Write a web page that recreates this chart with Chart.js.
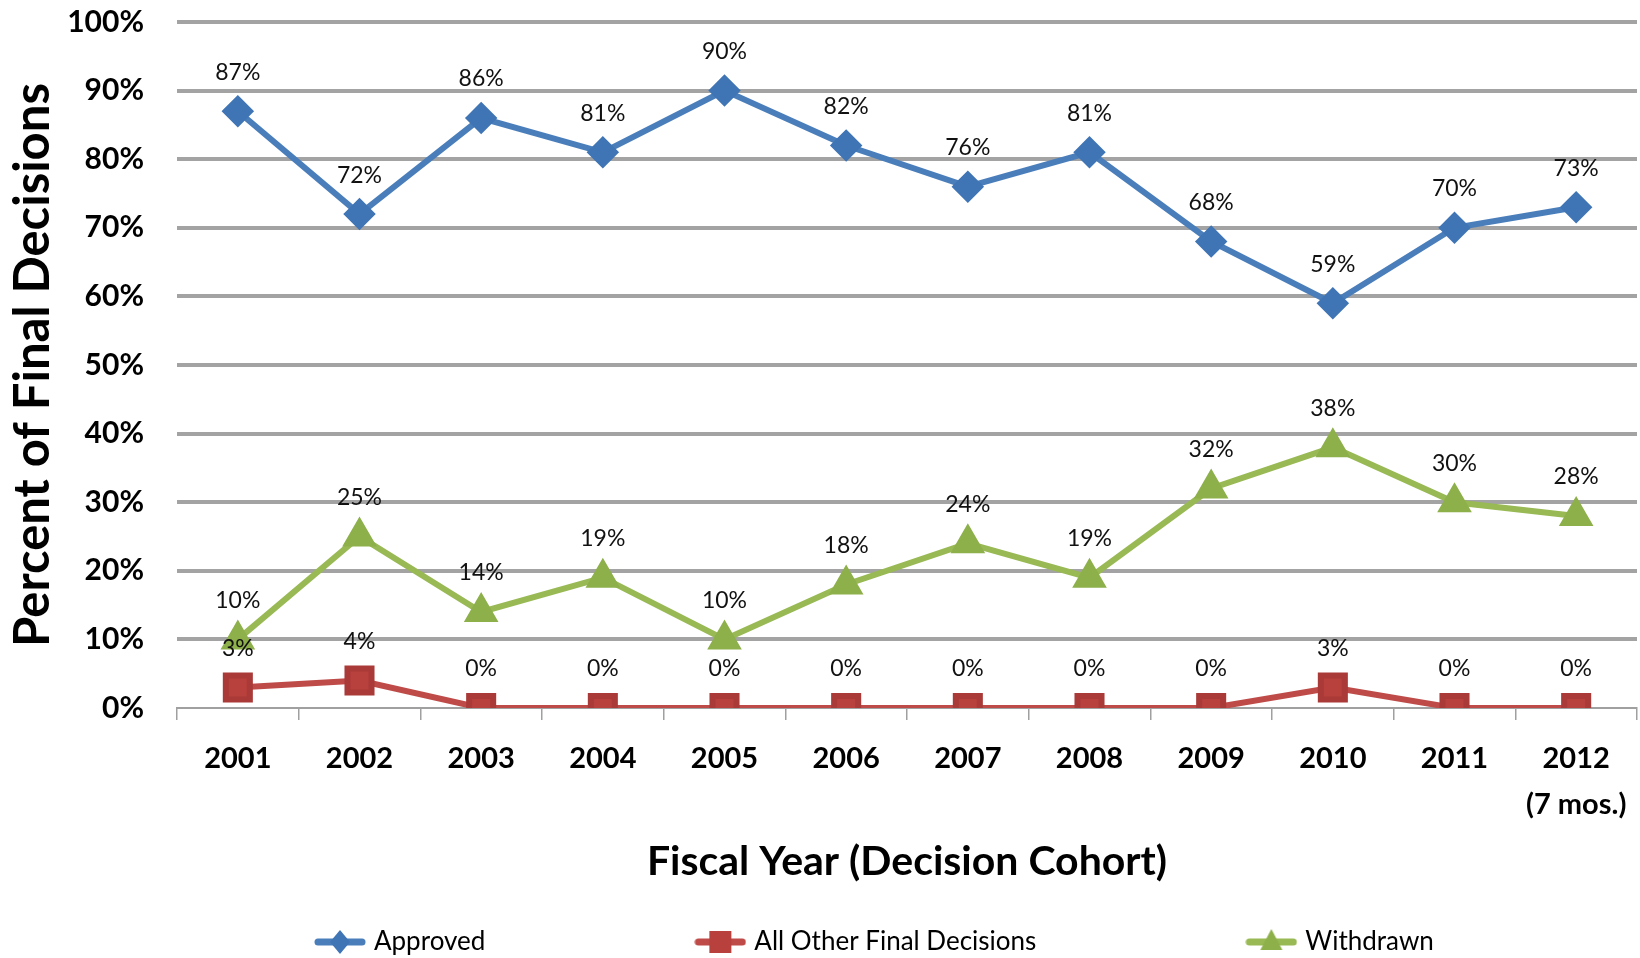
<!DOCTYPE html>
<html lang="en">
  <head>
    <meta charset="UTF-8" />
    <title>Final Decisions by Fiscal Year</title>
    <script src="https://cdn.jsdelivr.net/npm/chart.js@4.4.0/dist/chart.umd.min.js"></script>
    <style>
      body { margin: 0; background: #fff; }
    </style>
  </head>
  <body>
    <canvas id="decisions" width="1640" height="958"></canvas>
    <script>
      const years = ["2001", "2002", "2003", "2004", "2005", "2006", "2007", "2008", "2009", "2010", "2011", ["2012", "(7 mos.)"]];
      const approved = [87, 72, 86, 81, 90, 82, 76, 81, 68, 59, 70, 73];
      const allOther = [3, 4, 0, 0, 0, 0, 0, 0, 0, 3, 0, 0];
      const withdrawn = [10, 25, 14, 19, 10, 18, 24, 19, 32, 38, 30, 28];

      const FONT = "Lato, 'Liberation Sans', sans-serif";
      Chart.defaults.font.family = FONT;
      Chart.defaults.color = "#000";

      // little line-with-marker swatch for the legend
      function legendIcon(line, fill, shape) {
        const c = document.createElement("canvas");
        c.width = 52;
        c.height = 28;
        const g = c.getContext("2d");
        g.strokeStyle = line;
        g.lineWidth = 7;
        g.lineCap = "round";
        g.beginPath();
        g.moveTo(4, 14);
        g.lineTo(48, 14);
        g.stroke();
        g.fillStyle = fill;
        g.beginPath();
        if (shape === "diamond") {
          g.moveTo(26, 2); g.lineTo(36, 14); g.lineTo(26, 26); g.lineTo(16, 14);
        } else if (shape === "square") {
          g.rect(15, 3, 22, 22);
        } else {
          g.moveTo(26, 1); g.lineTo(37, 22); g.lineTo(15, 22);
        }
        g.closePath();
        g.fill();
        return c;
      }

      const icons = [
        legendIcon("#4A7EBB", "#3F74B5", "diamond"),
        legendIcon("#BE4B48", "#B8403D", "square"),
        legendIcon("#98B954", "#8DB04B", "triangle"),
      ];

      // percent label above every point
      const pointLabels = {
        id: "pointLabels",
        afterDatasetsDraw(chart) {
          const ctx = chart.ctx;
          ctx.save();
          ctx.font = "23px " + FONT;
          ctx.fillStyle = "#111";
          ctx.textAlign = "center";
          ctx.textBaseline = "middle";
          chart.data.datasets.forEach((ds, i) => {
            chart.getDatasetMeta(i).data.forEach((pt, j) => {
              ctx.fillText(ds.data[j] + "%", pt.x, pt.y - 39);
            });
          });
          ctx.restore();
        },
      };

      // legend entries sit far apart, so the label padding is big;
      // pull the box back up and over so the row lands at the bottom
      const legendSpread = {
        id: "legendSpread",
        afterUpdate(chart) {
          const lg = chart.legend;
          const pad = lg.options.labels.padding;
          lg.left += 105;
          lg.right += 105;
          lg.top = 942 - 13 - pad;
        },
      };

      new Chart(document.getElementById("decisions"), {
        type: "line",
        data: {
          labels: years,
          datasets: [
            {
              label: "Approved",
              data: approved,
              borderColor: "#4A7EBB",
              backgroundColor: "#3F74B5",
              pointBackgroundColor: "#3F74B5",
              pointBorderColor: "#3F74B5",
              pointStyle: "rectRot",
              pointRadius: 12,
              borderWidth: 6,
            },
            {
              label: "All Other Final Decisions",
              data: allOther,
              borderColor: "#BE4B48",
              backgroundColor: "#B8403D",
              pointBackgroundColor: "#B8403D",
              pointBorderColor: "#A93A37",
              pointStyle: "rect",
              pointRadius: 17,
              borderWidth: 6,
            },
            {
              label: "Withdrawn",
              data: withdrawn,
              borderColor: "#98B954",
              backgroundColor: "#8DB04B",
              pointBackgroundColor: "#8DB04B",
              pointBorderColor: "#8DB04B",
              pointStyle: "triangle",
              pointRadius: 14,
              borderWidth: 6,
            },
          ],
        },
        options: {
          responsive: false,
          animation: false,
          layout: {
            autoPadding: false,
            padding: { top: 22, right: 3, left: 0, bottom: 0 },
          },
          plugins: {
            tooltip: { enabled: false },
            legend: {
              position: "bottom",
              align: "start",
              maxHeight: 40,
              labels: {
                usePointStyle: true,
                pointStyleWidth: 42,
                padding: 214,
                color: "#000",
                font: { size: 26 },
                generateLabels(chart) {
                  const items = Chart.defaults.plugins.legend.labels.generateLabels(chart);
                  items.forEach((it, i) => { it.pointStyle = icons[i]; });
                  return items;
                },
              },
            },
          },
          scales: {
            x: {
              offset: true,
              afterFit(scale) {
                scale.height = 210;
                scale.paddingLeft = 0;
                scale.paddingRight = 0;
              },
              grid: {
                offset: true,
                drawOnChartArea: false,
                tickLength: 12,
                color: "#a0a0a0",
                lineWidth: 1.5,
              },
              border: { display: true, color: "#a0a0a0", width: 2 },
              ticks: {
                autoSkip: false,
                maxRotation: 0,
                padding: 15,
                color: "#000",
                font: { size: 29, weight: "bold", lineHeight: 1.6 },
              },
              title: {
                display: true,
                text: "Fiscal Year (Decision Cohort)",
                color: "#000",
                font: { size: 41, weight: "bold" },
                padding: { top: 0, bottom: 32 },
              },
            },
            y: {
              min: 0,
              max: 100,
              afterFit(scale) {
                scale.width = 177;
                // tick padding is horizontal here, keep it off the top/bottom
                scale.paddingTop = 0;
                scale.paddingBottom = 0;
              },
              grid: {
                drawTicks: false,
                color: (c) => (c.tick.value === 0 ? "transparent" : "#a3a3a3"),
                lineWidth: 4,
              },
              border: { display: false },
              ticks: {
                stepSize: 10,
                padding: 33,
                color: "#000",
                font: { size: 30, weight: "bold" },
                callback: (v) => v + "%",
              },
              title: {
                display: true,
                text: "Percent of Final Decisions",
                color: "#000",
                font: { size: 49, weight: "bold" },
                padding: { top: 4, bottom: 0 },
              },
            },
          },
        },
        plugins: [pointLabels, legendSpread],
      });
    </script>
  </body>
</html>
